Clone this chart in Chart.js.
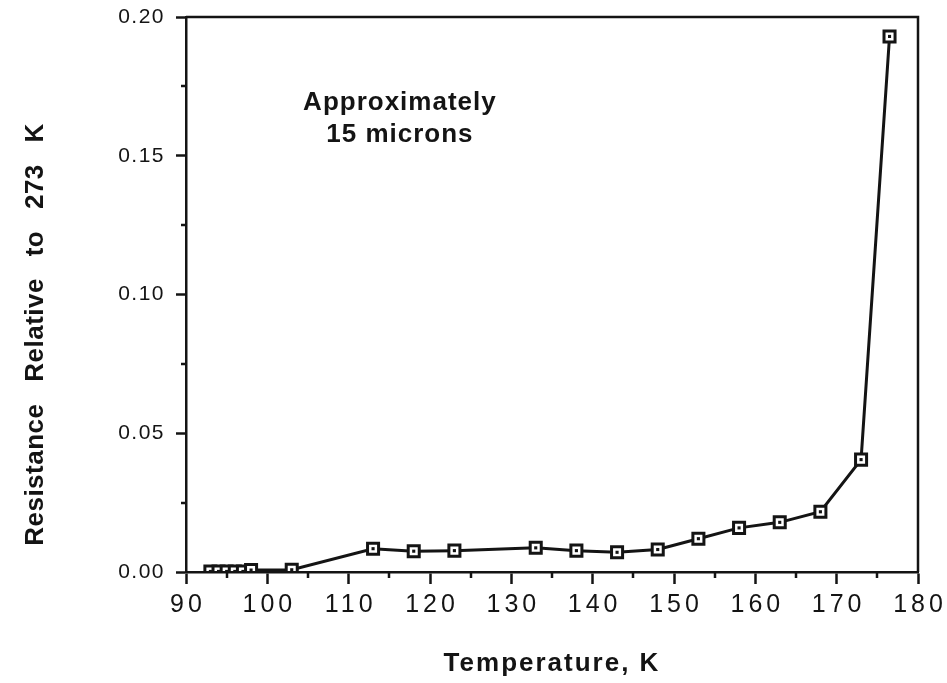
<!DOCTYPE html>
<html>
<head>
<meta charset="utf-8">
<script src="https://cdn.jsdelivr.net/npm/chart.js@4/dist/chart.umd.min.js"></script>
<style>
html,body{margin:0;padding:0;background:#fff;}
canvas{display:block;}
</style>
</head>
<body>
<canvas id="c" width="947" height="683"></canvas>
<script>
// ---- data ----
const temperatures = [93, 94, 95, 96, 97, 98, 103, 113, 118, 123, 133, 138, 143, 148, 153, 158, 163, 168, 173, 176.5];
const resistance   = [0.0002, 0.0002, 0.0002, 0.0002, 0.0002, 0.0007, 0.0008, 0.0084, 0.0075, 0.0077, 0.0087, 0.0077, 0.0071, 0.0081, 0.0120, 0.0159, 0.0179, 0.0217, 0.0405, 0.193];
const xTickValues  = [90, 100, 110, 120, 130, 140, 150, 160, 170, 180];
const xMinorTicks  = [95, 105, 115, 125, 135, 145, 155, 165, 175];
const yTickValues  = [0, 0.05, 0.10, 0.15, 0.20];
const yMinorTicks  = [0.025, 0.075, 0.125, 0.175];
const xTitle = 'Temperature, K';
const yTitle = 'Resistance Relative to 273 K';
const noteLines = ['Approximately', '15 microns'];
const noteAnchor = {x: 116.3, y: 0.1665};

const INK = '#141414';
const FONT = '"Liberation Sans", Arial, Helvetica, sans-serif';

const points = temperatures.map((t, i) => ({x: t, y: resistance[i]}));

const framePlugin = {
  id: 'frame',
  afterLayout(chart) {
    const xs = chart.scales.x, ys = chart.scales.y;
    if (!xs.__wrapped) {
      const dl = xs.drawLabels;
      xs.drawLabels = function (a) {
        const c = this.ctx; c.save(); c.translate(2, 0); c.letterSpacing = '4px'; dl.call(this, a); c.restore();
      };
      const dt = xs.drawTitle;
      xs.drawTitle = function () {
        const c = this.ctx; c.save(); c.letterSpacing = '2px'; dt.call(this); c.restore();
      };
      xs.__wrapped = true;
    }
    if (!ys.__wrapped) {
      const dl = ys.drawLabels;
      ys.drawLabels = function (a) {
        const c = this.ctx; c.save(); c.letterSpacing = '1.5px'; dl.call(this, a); c.restore();
      };
      const dt = ys.drawTitle;
      ys.drawTitle = function () {
        const c = this.ctx; c.save(); c.translate(0, 40); c.wordSpacing = '14px'; c.letterSpacing = '0.5px'; dt.call(this); c.restore();
      };
      ys.__wrapped = true;
    }
  },
  afterDraw(chart) {
    const {ctx, chartArea: ca, scales: {x, y}} = chart;
    ctx.save();
    ctx.strokeStyle = INK;
    ctx.lineWidth = 2.5;
    // top and right frame
    ctx.beginPath();
    ctx.moveTo(ca.left, ca.top);
    ctx.lineTo(ca.right, ca.top);
    ctx.lineTo(ca.right, ca.bottom);
    ctx.stroke();
    // minor ticks
    ctx.beginPath();
    xMinorTicks.forEach(v => {
      const px = Math.round(x.getPixelForValue(v));
      ctx.moveTo(px, ca.bottom);
      ctx.lineTo(px, ca.bottom + 6);
    });
    yMinorTicks.forEach(v => {
      const py = Math.round(y.getPixelForValue(v));
      ctx.moveTo(ca.left, py);
      ctx.lineTo(ca.left - 5, py);
    });
    ctx.stroke();
    // note
    ctx.fillStyle = INK;
    ctx.font = 'bold 26px ' + FONT;
    ctx.textAlign = 'center';
    ctx.textBaseline = 'alphabetic';
    ctx.letterSpacing = '1px';
    const nx = x.getPixelForValue(noteAnchor.x);
    const ny = y.getPixelForValue(noteAnchor.y);
    noteLines.forEach((t, i) => ctx.fillText(t, nx, ny + i * 32));
    ctx.restore();
  }
};

new Chart(document.getElementById('c'), {
  type: 'scatter',
  data: {
    datasets: [
      {
        label: 'centre',
        data: points,
        showLine: false,
        pointStyle: 'rect',
        pointRadius: 2.2,
        pointBorderWidth: 0,
        pointBackgroundColor: INK,
        order: 0,
        clip: {left: 20, top: 20, right: 20, bottom: 0}
      },
      {
        label: 'resistance',
        data: points,
        showLine: true,
        borderColor: INK,
        borderWidth: 3,
        tension: 0,
        pointStyle: 'rect',
        pointRadius: 7.8,
        pointBorderWidth: 3,
        pointBorderColor: INK,
        pointBackgroundColor: '#ffffff',
        order: 1,
        clip: {left: 20, top: 20, right: 20, bottom: 0}
      }
    ]
  },
  options: {
    responsive: false,
    animation: false,
    devicePixelRatio: 1,
    layout: {padding: {left: 0, top: 17, right: 29, bottom: 0}},
    plugins: {legend: {display: false}, tooltip: {enabled: false}},
    scales: {
      x: {
        type: 'linear',
        min: 90, max: 180,
        afterBuildTicks: s => { s.ticks = xTickValues.map(v => ({value: v})); },
        afterFit: s => { s.height = 111; s.paddingLeft = 0; s.paddingRight = 0; },
        ticks: {
          color: INK,
          font: {family: FONT, size: 25},
          padding: 6,
          maxRotation: 0,
          autoSkip: false,
          callback: v => String(v)
        },
        grid: {drawOnChartArea: false, drawTicks: true, tickLength: 12, tickWidth: 2.5, tickColor: INK, z: 1},
        border: {display: true, color: INK, width: 2.5, z: 1},
        title: {
          display: true,
          text: xTitle,
          color: INK,
          font: {family: FONT, size: 26, weight: 'bold'},
          padding: {top: 0, bottom: 4}
        }
      },
      y: {
        type: 'linear',
        min: 0, max: 0.2,
        afterBuildTicks: s => { s.ticks = yTickValues.map(v => ({value: v})); },
        afterFit: s => { s.width = 186; s.paddingTop = 0; s.paddingBottom = 0; },
        ticks: {
          color: INK,
          font: {family: FONT, size: 21},
          padding: 11,
          callback: v => Number(v).toFixed(2)
        },
        grid: {drawOnChartArea: false, drawTicks: true, tickLength: 10, tickWidth: 2.5, tickColor: INK},
        border: {display: true, color: INK, width: 2.5},
        title: {
          display: true,
          text: yTitle,
          color: INK,
          font: {family: FONT, size: 26, weight: 'bold'},
          padding: {top: 20, bottom: 0}
        }
      }
    }
  },
  plugins: [framePlugin]
});
</script>
</body>
</html>
